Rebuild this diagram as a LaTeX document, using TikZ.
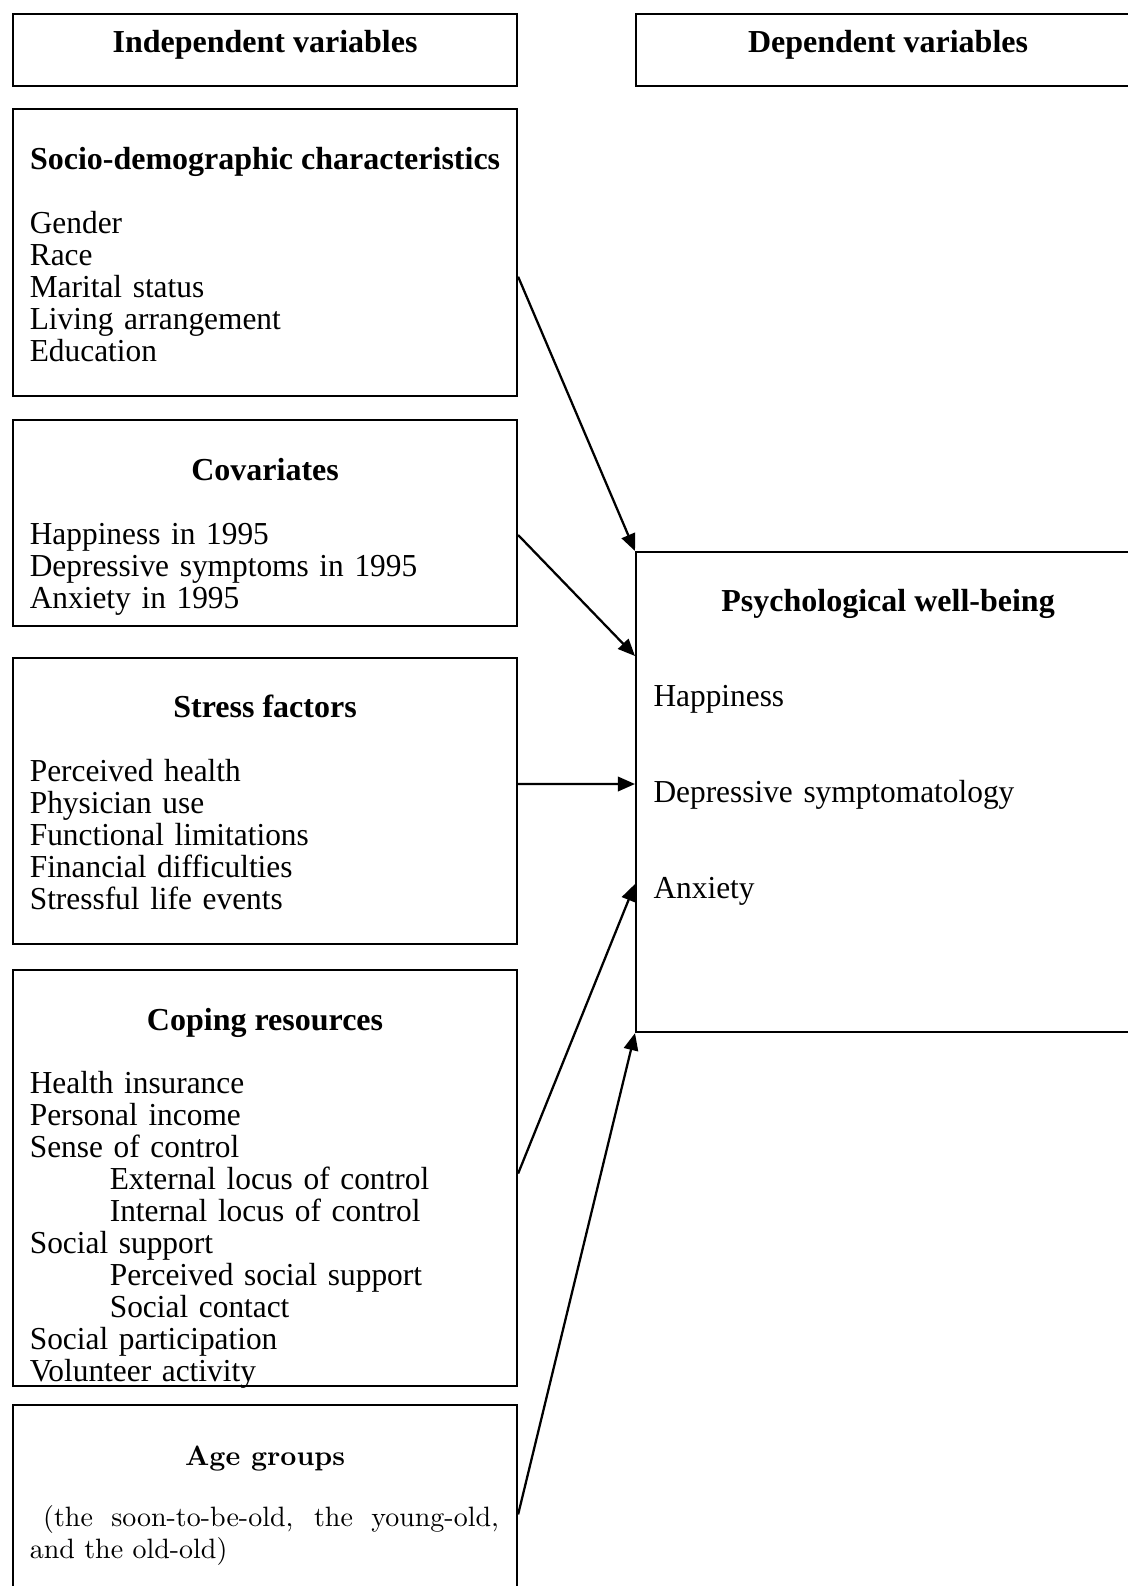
\documentclass[tikz,border=0pt]{standalone}
\usepackage{fontspec}
\newfontfamily\tnr[UprightFeatures={FakeStretch=0.98}]{Liberation Serif}
\usetikzlibrary{calc,arrows.meta}

\tikzset{
  varbox/.style={draw, line width=0.8pt, anchor=north west, inner sep=0pt,
    minimum width=189pt},
  head/.style={anchor=base, inner sep=0pt,
    font=\tnr\bfseries\fontsize{12}{12}\selectfont},
  items/.style={anchor=base west, inner sep=0pt, align=left, text width=180pt,
    font=\tnr\fontsize{12}{12}\selectfont},
  link/.style={-{Triangle[length=6.4pt,width=5.4pt]}, line width=0.85pt}
}

\begin{document}
\begin{tikzpicture}[x=0.375pt,y=-0.375pt]
\useasboundingbox (0,0) rectangle (1128,1586);

% column titles
\node[varbox, minimum height=27.1pt] (indep) at (12,12.7) {};
\node[varbox, minimum height=27.1pt] (dep) at (635,12.7) {};
\node[head] (indeptitle) at ($(indep.north)+(0,39.3)$) {Independent variables};
\node[head] (deptitle) at ($(dep.north)+(0,39.3)$) {Dependent variables};

% independent variables
\node[varbox, minimum height=107.5pt] (socio) at (12,108.3) {};
\node[head] (sociotitle) at ($(socio.north)+(0,60.7)$) {Socio-demographic characteristics};
\node[items] (socioitems) at ($(socio.north west)+(17.3,125)$)
  {Gender\\Race\\Marital status\\Living arrangement\\Education};

\node[varbox, minimum height=77.1pt] (covar) at (12,419.3) {};
\node[head] (covartitle) at ($(covar.north)+(0,60.7)$) {Covariates};
\node[items] (covaritems) at ($(covar.north west)+(17.3,124.7)$)
  {Happiness in 1995\\Depressive symptoms in 1995\\Anxiety in 1995};

\node[varbox, minimum height=107.4pt] (stress) at (12,656.7) {};
\node[head] (stresstitle) at ($(stress.north)+(0,60.7)$) {Stress factors};
\node[items] (stressitems) at ($(stress.north west)+(17.3,124.7)$)
  {Perceived health\\Physician use\\Functional limitations\\Financial difficulties\\Stressful life events};

\node[varbox, minimum height=155.9pt] (coping) at (12,969.3) {};
\node[head] (copingtitle) at ($(coping.north)+(0,60.7)$) {Coping resources};
\begin{scope}
\clip (coping.north west) rectangle (coping.south east);
\node[items] (copingitems) at ($(coping.north west)+(17.3,124)$)
  {Health insurance\\Personal income\\Sense of control\\
   \hspace*{30pt}External locus of control\\\hspace*{30pt}Internal locus of control\\
   Social support\\\hspace*{30pt}Perceived social support\\\hspace*{30pt}Social contact\\
   Social participation\\Volunteer activity};
\end{scope}

\node[varbox, minimum height=73.5pt] (age) at (12,1404) {};
\node[head, font=\rmfamily\bfseries\fontsize{10.5}{12}\selectfont] (agetitle)
  at ($(age.north)+(0,61)$) {Age groups};
\node[items, text width=175.9pt, align=justify, font=\rmfamily\fontsize{10.5}{11.9}\selectfont]
  (ageitems) at ($(age.north west)+(17.3,122.7)$)
  {\hspace*{5pt}(the soon-to-be-old, the young-old,\linebreak and the old-old)};

% dependent variables
\node[varbox, minimum height=180pt] (psych) at (635,551) {};
\node[head] (psychtitle) at ($(psych.north)+(0,60)$) {Psychological well-being};
\node[items] (psychitems) at ($(psych.north west)+(18,155.7)$)
  {Happiness\\[24pt]Depressive symptomatology\\[24pt]Anxiety};

% paths
\draw[link] ($(socio.north east)+(0,168.4)$) -- (psych.north west);
\draw[link] ($(covar.north east)+(0,115.7)$) -- ($(psych.north west)+(0,105)$);
\draw[link] ($(stress.north east)+(0,127.3)$) -- ($(psych.north west)+(0,233)$);
\draw[link] ($(coping.north east)+(0,204.2)$) -- ($(psych.north west)+(0,333)$);
\draw[link] ($(age.north east)+(0,110.4)$) -- (psych.south west);
\end{tikzpicture}
\end{document}
